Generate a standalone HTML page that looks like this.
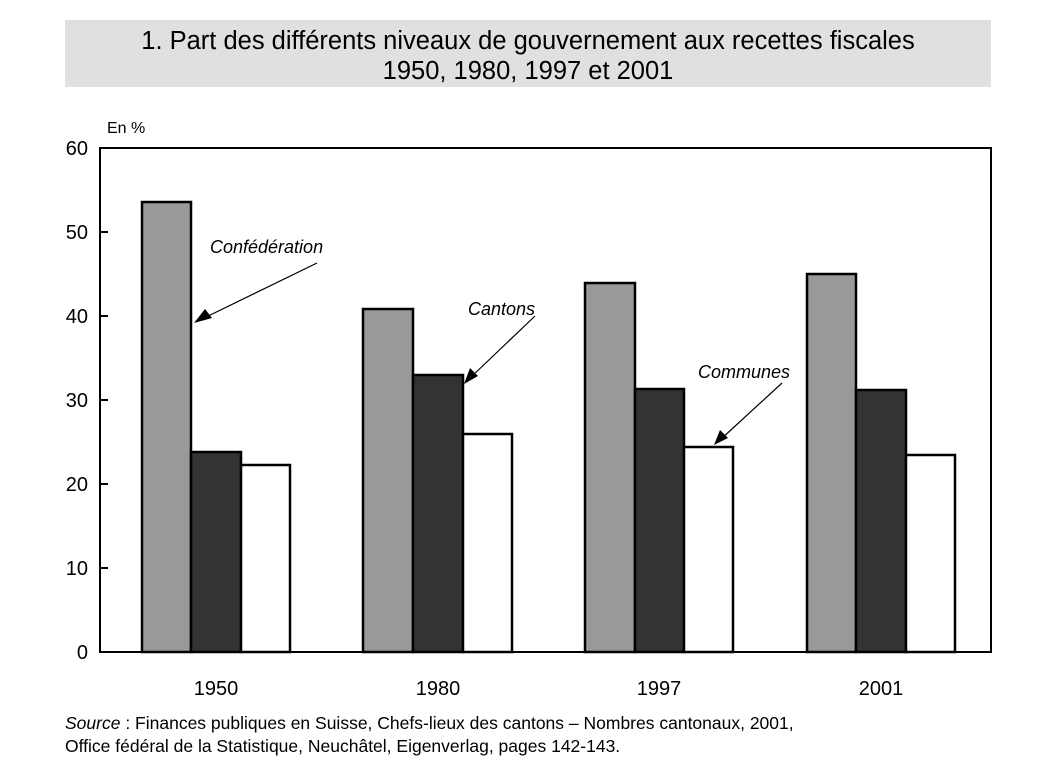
<!DOCTYPE html>
<html><head><meta charset="utf-8"><style>
body{margin:0;background:#fff;}
text{font-family:"Liberation Sans",sans-serif;fill:#000;}
</style></head><body>
<svg width="1043" height="768" xmlns="http://www.w3.org/2000/svg">
<rect x="65" y="20" width="926" height="67" fill="#e0e0e0"/>
<text x="528" y="49" font-size="25.5" text-anchor="middle">1. Part des différents niveaux de gouvernement aux recettes fiscales</text>
<text x="528" y="79" font-size="25.5" text-anchor="middle">1950, 1980, 1997 et 2001</text>
<text x="107" y="133" font-size="16">En %</text>
<g stroke="#000" stroke-width="2.5">
<rect x="142" y="202" width="49" height="450" fill="#999"/>
<rect x="191" y="452" width="50" height="200" fill="#333"/>
<rect x="241" y="465" width="49" height="187" fill="#fff"/>
<rect x="363" y="309" width="50" height="343" fill="#999"/>
<rect x="413" y="375" width="50" height="277" fill="#333"/>
<rect x="463" y="434" width="49" height="218" fill="#fff"/>
<rect x="585" y="283" width="50" height="369" fill="#999"/>
<rect x="635" y="389" width="49" height="263" fill="#333"/>
<rect x="684" y="447" width="49" height="205" fill="#fff"/>
<rect x="807" y="274" width="49" height="378" fill="#999"/>
<rect x="856" y="390" width="50" height="262" fill="#333"/>
<rect x="906" y="455" width="49" height="197" fill="#fff"/>
</g>
<rect x="100" y="148" width="891" height="504" fill="none" stroke="#000" stroke-width="2"/>
<g stroke="#000" stroke-width="2">
<line x1="100" y1="232" x2="108" y2="232"/><line x1="100" y1="316" x2="108" y2="316"/>
<line x1="100" y1="400" x2="108" y2="400"/><line x1="100" y1="484" x2="108" y2="484"/>
<line x1="100" y1="568" x2="108" y2="568"/>
</g>
<g font-size="20" text-anchor="end">
<text x="88" y="155">60</text><text x="88" y="239">50</text><text x="88" y="323">40</text>
<text x="88" y="407">30</text><text x="88" y="491">20</text><text x="88" y="575">10</text><text x="88" y="659">0</text>
</g>
<g font-size="20" text-anchor="middle">
<text x="216" y="695">1950</text><text x="438" y="695">1980</text><text x="659" y="695">1997</text><text x="881" y="695">2001</text>
</g>
<g font-size="18" font-style="italic">
<text x="210" y="253">Confédération</text>
<text x="468" y="315">Cantons</text>
<text x="698" y="378">Communes</text>
</g>
<g stroke="#000" stroke-width="1.2">
<line x1="317" y1="263" x2="200" y2="320"/>
<line x1="535" y1="316" x2="470" y2="378"/>
<line x1="782" y1="383" x2="720" y2="440"/>
</g>
<polygon points="194,323 205,309 212,318" fill="#000"/>
<polygon points="464,384 470,368 478,376" fill="#000"/>
<polygon points="714,445 720,430 728,438" fill="#000"/>
<text x="65" y="729" font-size="17.5"><tspan font-style="italic">Source</tspan> : Finances publiques en Suisse, Chefs-lieux des cantons – Nombres cantonaux, 2001,</text>
<text x="65" y="752" font-size="17.5">Office fédéral de la Statistique, Neuchâtel, Eigenverlag, pages 142-143.</text>
</svg>
</body></html>
